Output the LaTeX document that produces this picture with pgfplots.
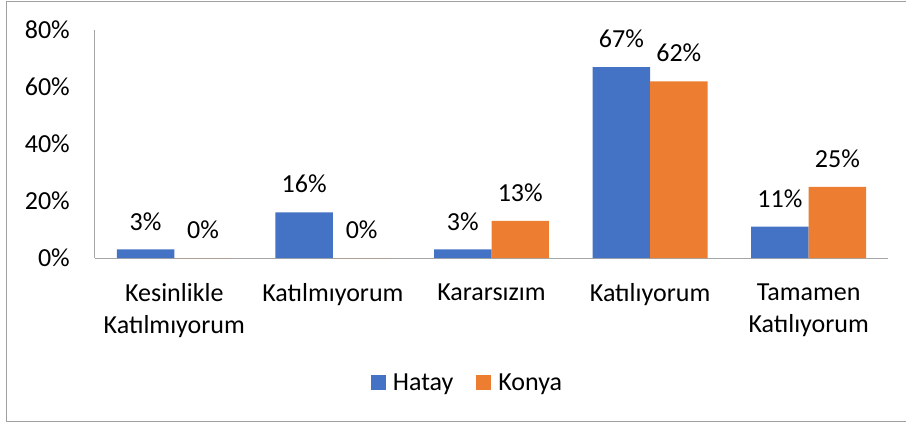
\documentclass[border=0pt]{standalone}
\usepackage{fontspec}
\setmainfont{Carlito}
\usepackage{pgfplots}
\pgfplotsset{compat=1.18}
\definecolor{hatay}{HTML}{4472C4}
\definecolor{konya}{HTML}{ED7D31}
\definecolor{axgray}{HTML}{A6A6A6}
\definecolor{framegray}{HTML}{A0A0A0}
\newcommand\fsz{\fontsize{26}{32}\selectfont}
\newcommand\ts{\rule{0pt}{17pt}}
\begin{document}
\begin{tikzpicture}[font=\fsz]
\useasboundingbox (0,0) rectangle (906pt,-423pt);
\begin{axis}[
  at={(95pt,-258pt)}, anchor=south west,
  scale only axis, width=793pt, height=228pt,
  xmin=-0.5, xmax=4.5, ymin=0, ymax=80,
  clip=false,
  axis x line*=bottom, axis y line*=left,
  axis line style={draw=axgray, line width=1pt},
  major tick length=0pt,
  ytick={0,20,40,60,80},
  yticklabels={0\%,20\%,40\%,60\%,80\%},
  yticklabel style={anchor=east, inner sep=0pt, xshift=-25pt, font=\fsz},
  xtick={0,1,2,3,4},
  xticklabels={{\ts Kesinlikle\\Katılmıyorum},{\ts Katılmıyorum},{\ts Kararsızım},{\ts Katılıyorum},{\ts Tamamen\\Katılıyorum}},
  xticklabel style={align=center, anchor=north, inner sep=0pt, yshift=-25pt, font=\fsz},
  ybar, bar width=0.3625,
  /pgf/number format/assume math mode=true,
  nodes near coords={\pgfmathprintnumber{\pgfplotspointmeta}\%},
  nodes near coords style={anchor=south, inner sep=0pt, yshift=19pt, text=black, font=\fsz},
  legend columns=-1,
  legend image code/.code={\fill[#1] (0pt,0pt) rectangle (15pt,15pt);},
  legend style={at={(0.4685,-0.546)}, anchor=center, draw=none, fill=none,
    inner sep=0pt, font=\fsz, cells={anchor=base}, nodes={inner sep=0pt},
    /tikz/every odd column/.style={column sep=7pt},
    /tikz/every even column/.style={column sep=23pt}},
]
\addplot[fill=hatay, draw=none, bar shift=-0.18125] coordinates {(0,3) (1,16) (2,3) (3,67) (4,11)};
\addplot[fill=konya, draw=none, bar shift=0.18125] coordinates {(0,0) (1,0) (2,13) (3,62) (4,25)};
\legend{Hatay, Konya}
\end{axis}
\draw[color=framegray, line width=1pt] (912pt,-1pt) -- (6.5pt,-1pt) -- (6.5pt,-421pt) -- (912pt,-421pt);
\end{tikzpicture}
\end{document}
